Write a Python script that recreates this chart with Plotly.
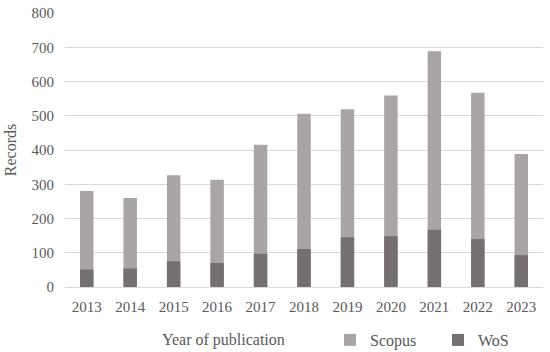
import plotly.graph_objects as go

years = ["2013", "2014", "2015", "2016", "2017", "2018", "2019", "2020", "2021", "2022", "2023"]
scopus = [280, 260, 326, 313, 415, 506, 519, 559, 688, 567, 388]
wos = [51, 54, 75, 70, 97, 111, 145, 148, 167, 140, 93]

FONT = "Liberation Serif"
TXT = "#595959"

fig = go.Figure()
fig.add_trace(go.Bar(x=years, y=scopus, name="Scopus", marker_color="#A9A5A4",
                     marker_line_width=0))
fig.add_trace(go.Bar(x=years, y=wos, name="WoS", marker_color="#75706F",
                     marker_line_width=0))

fig.update_layout(
    width=550, height=352,
    barmode="overlay",
    bargap=0.69,
    margin=dict(l=65, r=7, t=13, b=65),
    paper_bgcolor="white", plot_bgcolor="white",
    font=dict(family=FONT, size=15, color=TXT),
    showlegend=True,
    legend=dict(orientation="h", xref="container", yref="container",
                x=330 / 550, xanchor="left", y=1 - 340 / 352, yanchor="middle",
                font=dict(family=FONT, size=16, color=TXT),
                itemwidth=30, entrywidth=63, entrywidthmode="pixels",
                bgcolor="rgba(0,0,0,0)"),
    annotations=[dict(text="Year of publication", x=(160 - 65) / 478, xref="paper",
                      y=(287 - 340) / 274, yref="paper", showarrow=False,
                      xanchor="left", yanchor="middle",
                      font=dict(family=FONT, size=16, color=TXT))],
)
fig.update_xaxes(showgrid=False, showline=True, linecolor="#D9D9D9", linewidth=1,
                 ticks="", tickangle=0, tickfont=dict(size=15, color=TXT),
                 ticklabelstandoff=6, automargin=False)
fig.update_yaxes(range=[0, 800], dtick=100, showgrid=True, gridcolor="#D9D9D9",
                 gridwidth=1, zeroline=False, showline=False, ticks="",
                 tickfont=dict(size=15, color=TXT), ticklabelstandoff=10,
                 automargin=False,
                 title=dict(text="Records", font=dict(size=16, color=TXT), standoff=10))

fig.write_html("out.html", config={"displayModeBar": False},
               post_script="document.body.style.margin='0';document.body.style.overflow='hidden';")
